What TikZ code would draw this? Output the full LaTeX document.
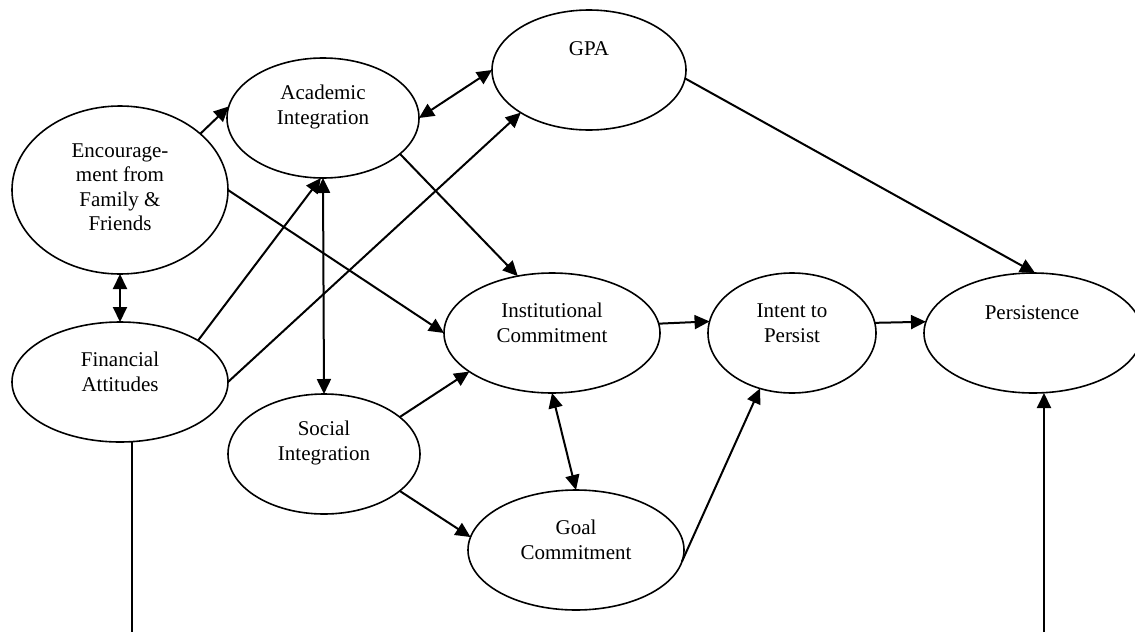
\documentclass[tikz,border=0pt]{standalone}
\usepackage{fontspec}
\setmainfont{Liberation Serif}
\usetikzlibrary{arrows.meta,shapes.geometric,calc}
\begin{document}
\begin{tikzpicture}[x=1pt,y=-1pt,
  oval/.style={ellipse, draw, line width=1.6pt, inner sep=0pt, outer sep=0pt},
  txt/.style={align=center, inner sep=0pt, font=\fontsize{21}{24.5}\selectfont},
  link/.style={line width=2pt, -{Triangle[length=15pt,width=14pt]}},
  both/.style={line width=2pt, {Triangle[length=15pt,width=14pt]}-{Triangle[length=15pt,width=14pt]}},
  plain/.style={line width=2pt}
]
\useasboundingbox (0,0) rectangle (1135,632);
\clip (0,0) rectangle (1135,632);

% constructs
\node[oval, minimum width=194pt, minimum height=120pt] (gpa)    at (589,70)  {};
\node[oval, minimum width=192pt, minimum height=120pt] (acad)   at (323,118) {};
\node[oval, minimum width=216pt, minimum height=168pt] (enc)    at (120,190) {};
\node[oval, minimum width=216pt, minimum height=120pt] (fin)    at (120,382) {};
\node[oval, minimum width=216pt, minimum height=120pt] (inst)   at (552,333) {};
\node[oval, minimum width=168pt, minimum height=120pt] (intent) at (792,333) {};
\node[oval, minimum width=218pt, minimum height=120pt] (pers)   at (1033,333) {};
\node[oval, minimum width=192pt, minimum height=120pt] (soc)    at (324,454) {};
\node[oval, minimum width=216pt, minimum height=120pt] (goal)   at (576,550) {};

% labels, set high inside each oval
\node[txt] (gpa-t)    at (589,49)    {GPA};
\node[txt] (acad-t)   at (323,107)   {Academic\\Integration};
\node[txt] (enc-t)    at (120,187)   {Encourage-\\ment from\\Family \&\\Friends};
\node[txt] (fin-t)    at (120,372)   {Financial\\Attitudes};
\node[txt] (inst-t)   at (552,323)   {Institutional\\Commitment};
\node[txt] (intent-t) at (792,323)   {Intent to\\Persist};
\node[txt] (pers-t)   at (1032,313)  {Persistence};
\node[txt] (soc-t)    at (324,443)   {Social\\Integration};
\node[txt] (goal-t)   at (576,540)   {Goal\\Commitment};

% paths
\draw[link] (enc.35.5) -- (acad.173.4);
\draw[both] (enc.south) -- (fin.north);
\draw[both] (acad.south) -- (soc.north);
\draw[link] (fin.28.6) -- (acad.-92);
\draw[link] (fin.east) -- (gpa.-148.1);
\draw[link] (enc.east) -- (inst.west);
\draw[link] (acad.-25.9) -- (inst.121.7);
\draw[both] (acad.east) -- (gpa.west);
\draw[link] (gpa.-5.9) -- (pers.88);
\draw[link] (inst.5.9) -- (intent.172.4);
\draw[link] (intent.7.6) -- (pers.174.1);
\draw[link] (soc.26.9) -- (inst.-155.3);
\draw[link] (soc.-26.3) -- (goal.173.2);
\draw[both] (inst.south) -- (goal.north);
\draw[link] (goal.-6.4) -- (intent.-120.8);

% lines running off the lower edge
\coordinate (finout) at (132,632);
\coordinate (persin) at (1044,632);
\draw[plain] (fin.south -| finout) -- (finout);
\draw[link] (persin) -- (pers.south -| persin);
\end{tikzpicture}
\end{document}
